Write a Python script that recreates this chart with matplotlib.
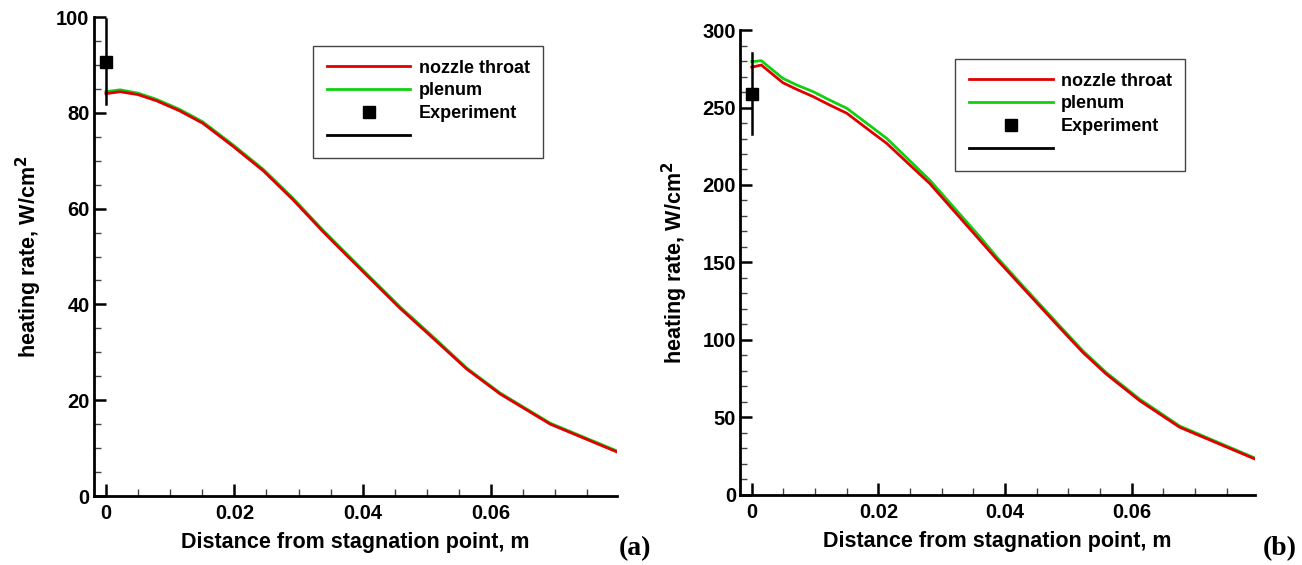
import matplotlib
matplotlib.use("Agg")
import matplotlib.pyplot as plt
from matplotlib.lines import Line2D
from matplotlib.ticker import MultipleLocator

plt.rcParams["font.family"] = ["Liberation Sans", "DejaVu Sans"]
plt.rcParams["font.weight"] = "bold"

# panel (a)
xa = [0, 0.0022, 0.005, 0.0079, 0.0115, 0.0151, 0.0198, 0.0245, 0.0291,
      0.0338, 0.0364, 0.040, 0.0458, 0.0509, 0.0562, 0.0614, 0.0692, 0.0796]
plenum_a = [84.4, 84.8, 84.1, 82.8, 80.7, 78.1, 73.3, 68.2, 62.2,
            55.5, 52.0, 47.2, 39.5, 33.3, 26.7, 21.5, 15.2, 9.4]
throat_a = [84.0, 84.4, 83.8, 82.5, 80.4, 77.8, 73.0, 67.9, 61.9,
            55.2, 51.7, 46.9, 39.2, 33.0, 26.5, 21.3, 15.0, 9.2]
exp_a_x, exp_a_y = 0.0, 90.7
exp_a_err = [81.8, 99.6]

# panel (b)
xb = [0, 0.0015, 0.0049, 0.0071, 0.0097, 0.0123, 0.015, 0.0192, 0.0213,
      0.0281, 0.036, 0.0387, 0.0428, 0.0481, 0.0523, 0.056, 0.0613, 0.0676, 0.0795]
plenum_b = [279.6, 280.2, 268.8, 264.5, 260.2, 254.8, 249.5, 236.6, 230.1,
            203.2, 166.7, 153.5, 135.0, 111.5, 93.0, 79.0, 61.8, 44.5, 23.8]
throat_b = [276.0, 277.4, 266.0, 261.7, 257.0, 251.6, 246.3, 233.3, 226.9,
            201.0, 164.5, 152.0, 133.8, 110.3, 92.0, 78.0, 60.8, 43.7, 23.2]
exp_b_x, exp_b_y = 0.0, 259.0
exp_b_err = [232.9, 285.4]

RED = "#e00000"
GREEN = "#10d010"

fig = plt.figure(figsize=(13.02, 5.65), dpi=100)
ax_a = fig.add_axes([0.0720, 0.1221, 0.4019, 0.8478])
ax_b = fig.add_axes([0.5684, 0.1239, 0.3955, 0.8230])


def style_axes(ax, xlim, ylim, ymajor, yminor):
    ax.set_xlim(*xlim)
    ax.set_ylim(*ylim)
    for s in ["top", "right"]:
        ax.spines[s].set_visible(False)
    for s in ["left", "bottom"]:
        ax.spines[s].set_linewidth(2.0)
    ax.xaxis.set_major_locator(MultipleLocator(0.02))
    ax.xaxis.set_minor_locator(MultipleLocator(0.005))
    ax.yaxis.set_major_locator(MultipleLocator(ymajor))
    ax.yaxis.set_minor_locator(MultipleLocator(yminor))
    ax.tick_params(which="major", direction="in", length=8.5, width=1.8,
                   labelsize=14.5)
    ax.tick_params(axis="x", which="major", pad=6)
    ax.tick_params(axis="y", which="major", pad=3)
    ax.tick_params(which="minor", direction="in", length=5, width=1.0,
                   color="#444444")
    ax.set_xticks([0, 0.02, 0.04, 0.06])
    ax.set_xticklabels(["0", "0.02", "0.04", "0.06"])
    ax.set_xlabel("Distance from stagnation point, m", fontsize=15.5,
                  fontweight="bold", labelpad=6)
    ax.set_ylabel("heating rate, W/cm$^\\mathbf{2}$", fontsize=15.5,
                  fontweight="bold", labelpad=9)


def draw_panel(ax, x, throat, plenum, ex, ey, eerr, legend_anchor):
    ax.plot(x, throat, color=RED, lw=2.0, zorder=3)
    ax.plot(x, plenum, color=GREEN, lw=2.0, zorder=2)
    ax.plot([ex, ex], eerr, color="black", lw=1.8, zorder=4, clip_on=False)
    ax.plot([ex], [ey], "s", color="black", markersize=8.5, zorder=5,
            clip_on=False)
    handles = [
        Line2D([], [], color=RED, lw=2.0),
        Line2D([], [], color=GREEN, lw=2.0),
        Line2D([], [], ls="none", marker="s", color="black", markersize=8.5),
        Line2D([], [], color="black", lw=2.0),
    ]
    leg = ax.legend(handles, ["nozzle throat", "plenum", "Experiment", " "],
                    loc="upper left", bbox_to_anchor=legend_anchor,
                    frameon=True, fancybox=False, framealpha=1,
                    edgecolor="#444444", fontsize=13, handlelength=4.65,
                    handletextpad=0.45, labelspacing=0.32, borderpad=0.75,
                    borderaxespad=0)
    leg.get_frame().set_linewidth(1.0)
    for t in leg.get_texts():
        t.set_fontweight("bold")


style_axes(ax_a, (-0.0019, 0.0796), (0, 100), 20, 5)
draw_panel(ax_a, xa, throat_a, plenum_a, exp_a_x, exp_a_y, exp_a_err,
           (0.419, 0.9395))
style_axes(ax_b, (-0.00186, 0.0795), (0, 300), 50, 10)
draw_panel(ax_b, xb, throat_b, plenum_b, exp_b_x, exp_b_y, exp_b_err,
           (0.4175, 0.9376))

fig.text(619 / 1302, 1 - 549 / 565, "(a)", family="Liberation Serif",
         fontweight="bold", fontsize=20, ha="left", va="center")
fig.text(1263 / 1302, 1 - 549 / 565, "(b)", family="Liberation Serif",
         fontweight="bold", fontsize=20, ha="left", va="center")

fig.savefig("out.png", dpi=100)
